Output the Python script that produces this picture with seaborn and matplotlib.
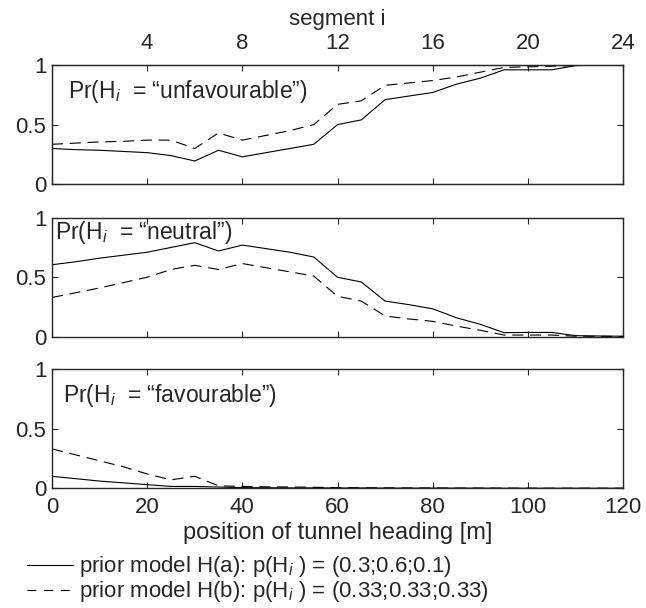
import numpy as np
import pandas as pd
import seaborn as sns
import matplotlib.pyplot as plt
from matplotlib.lines import Line2D

# position of tunnel heading [m]
position = [0, 5, 10, 15, 20, 25, 30, 35, 40, 45, 50, 55, 60,
            65, 70, 75, 80, 85, 90, 95, 100, 105, 110, 115, 120]

# prior model H(a)
unfav_a = [0.30, 0.29, 0.285, 0.275, 0.265, 0.24, 0.195, 0.285, 0.23, 0.265, 0.30, 0.335, 0.50,
           0.54, 0.71, 0.74, 0.77, 0.84, 0.89, 0.96, 0.96, 0.96, 0.995, 1.0, 1.0]
neutral_a = [0.605, 0.63, 0.66, 0.685, 0.71, 0.75, 0.79, 0.72, 0.77, 0.74, 0.71, 0.67, 0.50,
             0.46, 0.30, 0.27, 0.235, 0.16, 0.105, 0.035, 0.037, 0.037, 0.01, 0.007, 0.005]
fav_a = [0.10, 0.08, 0.06, 0.045, 0.03, 0.015, 0.015, 0.01, 0.005, 0.004, 0.003, 0.003, 0.002,
         0.002, 0.001, 0.001, 0.001, 0.001, 0.001, 0.0, 0.0, 0.0, 0.0, 0.0, 0.0]

# prior model H(b)
unfav_b = [0.335, 0.345, 0.355, 0.36, 0.37, 0.37, 0.30, 0.43, 0.37, 0.41, 0.45, 0.50, 0.67,
           0.70, 0.83, 0.85, 0.87, 0.90, 0.94, 0.98, 0.985, 0.99, 0.995, 1.0, 1.0]
neutral_b = [0.33, 0.37, 0.41, 0.455, 0.50, 0.565, 0.60, 0.565, 0.615, 0.58, 0.545, 0.51, 0.34,
             0.30, 0.175, 0.15, 0.13, 0.09, 0.055, 0.015, 0.015, 0.015, 0.005, 0.004, 0.003]
fav_b = [0.33, 0.28, 0.23, 0.18, 0.12, 0.07, 0.10, 0.02, 0.015, 0.012, 0.01, 0.008, 0.005,
         0.004, 0.003, 0.002, 0.002, 0.001, 0.001, 0.001, 0.0, 0.0, 0.0, 0.0, 0.0]

panel_labels = ["Pr(H$_i$  = \u201cunfavourable\u201d)",
                "Pr(H$_i$  = \u201cneutral\u201d)",
                "Pr(H$_i$  = \u201cfavourable\u201d)"]
segment_ticks = [4, 8, 12, 16, 20, 24]
legend_labels = ["prior model H(a): p(H$_i$ ) = (0.3;0.6;0.1)",
                 "prior model H(b): p(H$_i$ ) = (0.33;0.33;0.33)"]

sns.set_style("ticks")
plt.rcParams["font.family"] = ["Liberation Sans", "DejaVu Sans"]
plt.rcParams["mathtext.fontset"] = "custom"
plt.rcParams["mathtext.it"] = "Liberation Sans:italic"
plt.rcParams["mathtext.rm"] = "Liberation Sans"

fs = 16
fig = plt.figure(figsize=(6.46, 6.08), dpi=100)
boxes = [(0.0805, 0.697, 0.884, 0.196),
         (0.0805, 0.446, 0.884, 0.196),
         (0.0805, 0.197, 0.884, 0.196)]
series = [(unfav_a, unfav_b), (neutral_a, neutral_b), (fav_a, fav_b)]
label_pos = [(0.028, 0.78), (0.005, 0.874), (0.019, 0.78)]
dash = (0, (10, 6))

axes = []
for box, (ya, yb), lab, lp in zip(boxes, series, panel_labels, label_pos):
    ax = fig.add_axes(box)
    df = pd.DataFrame({"pos": position, "a": ya, "b": yb})
    sns.lineplot(data=df, x="pos", y="a", ax=ax, color="black", lw=0.8)
    sns.lineplot(data=df, x="pos", y="b", ax=ax, color="black", lw=0.8, linestyle=dash)
    ax.set_xlim(0, 120)
    ax.set_ylim(0, 1)
    ax.set_xticks(np.arange(0, 121, 20))
    ax.set_yticks([0, 0.5, 1])
    ax.set_yticklabels(["0", "0.5", "1"])
    ax.tick_params(direction="in", top=True, right=True, length=4, width=0.8,
                   labelsize=fs, labelbottom=False)
    ax.tick_params(axis="y", pad=4)
    ax.tick_params(axis="x", pad=6)
    for s in ax.spines.values():
        s.set_linewidth(1.0)
    ax.set_xlabel("")
    ax.set_ylabel("")
    ax.text(lp[0], lp[1], lab, transform=ax.transAxes, va="center", ha="left", fontsize=16.5)
    axes.append(ax)

axes[-1].tick_params(labelbottom=True)
axes[-1].set_xlabel("position of tunnel heading [m]", fontsize=17, labelpad=3)

top = axes[0].twiny()
top.set_xlim(0, 24)
top.set_xticks(segment_ticks)
top.tick_params(direction="in", length=4, width=0.8, labelsize=fs, pad=8)
top.set_xlabel("segment i", fontsize=fs, labelpad=6)

handles = [Line2D([], [], color="black", lw=0.8),
           Line2D([], [], color="black", lw=0.8, linestyle=(0, (8, 7)))]
fig.legend(handles, legend_labels, loc="lower left", bbox_to_anchor=(0.042, 0.006),
           frameon=False, fontsize=16, handlelength=2.05, handletextpad=0.3,
           labelspacing=0.0, borderaxespad=0.0, borderpad=0.0)

fig.savefig("out.png", dpi=100)
